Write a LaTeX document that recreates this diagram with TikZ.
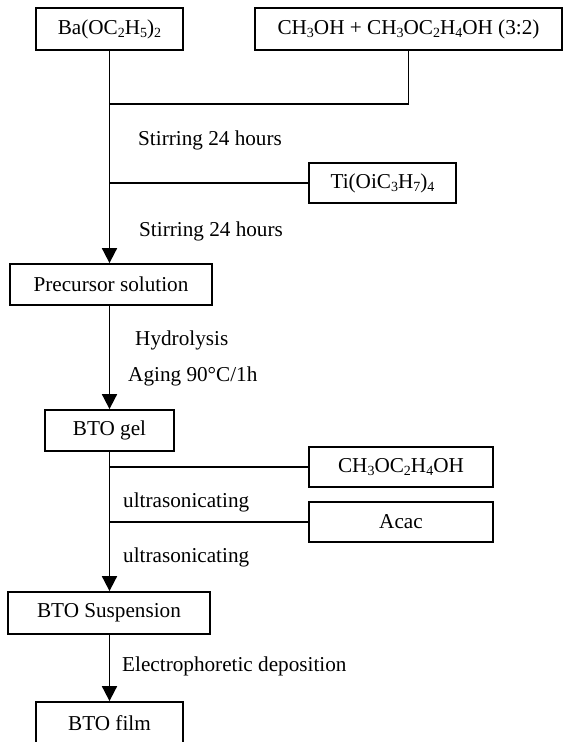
\documentclass[tikz,border=0pt]{standalone}
\usepackage{fontspec}
\setmainfont{Liberation Serif}
\usetikzlibrary{arrows.meta}
\newcommand\sbs[1]{\raisebox{-0.35ex}{\fontsize{14}{14}\selectfont #1}}
\begin{document}
\begin{tikzpicture}[x=1pt,y=-1pt,
  box/.style={draw,line width=1.8pt,inner sep=0pt,font=\fontsize{21.2}{24}\selectfont},
  lbl/.style={anchor=west,inner sep=0pt,font=\fontsize{21.2}{24}\selectfont},
  con/.style={line width=1.8pt},
  arr/.style={con,-{Triangle[width=15pt,length=15pt]}}]
\useasboundingbox (0,0) rectangle (564,742);
\node[box,minimum width=147pt,minimum height=42pt] (ba) at (109.5,29) {Ba(OC\sbs{2}H\sbs{5})\sbs{2}};
\node[box,minimum width=307pt,minimum height=42pt] (mix) at (408.5,29) {CH\sbs{3}OH + CH\sbs{3}OC\sbs{2}H\sbs{4}OH (3:2)};
\coordinate (j1) at (109.5,104);
\node[box,minimum width=147pt,minimum height=40pt] (ti) at (382.5,183) {Ti(OiC\sbs{3}H\sbs{7})\sbs{4}};
\node[box,minimum width=202pt,minimum height=41pt] (pre) at (111,284.5) {Precursor solution};
\node[box,minimum width=129pt,minimum height=41pt] (gel) at (109.5,430.5) {BTO gel};
\node[box,minimum width=184pt,minimum height=40pt] (meoh) at (401,467) {CH\sbs{3}OC\sbs{2}H\sbs{4}OH};
\node[box,minimum width=184pt,minimum height=40pt] (acac) at (401,522) {Acac};
\node[box,minimum width=202pt,minimum height=42pt] (susp) at (109,613) {BTO Suspension};
\node[box,minimum width=147pt,minimum height=42pt] (film) at (109.5,723) {BTO film};

\node[lbl] (s1) at (138,140) {Stirring 24 hours};
\node[lbl] (s2) at (139,231) {Stirring 24 hours};
\node[lbl] (hy) at (135,340) {Hydrolysis};
\node[lbl] (ag) at (128,376) {Aging 90°C/1h};
\node[lbl] (u1) at (123,502) {ultrasonicating};
\node[lbl] (u2) at (123,557) {ultrasonicating};
\node[lbl] (ep) at (122,666) {Electrophoretic deposition};

\draw[con] (mix.south) |- (j1);
\draw[arr] (ba.south) -- (ba.south |- pre.north);
\draw[con] (ti.west) -- (ti.west -| ba.south);
\draw[arr] (gel.north |- pre.south) -- (gel.north);
\draw[arr] (gel.south) -- (gel.south |- susp.north);
\draw[con] (meoh.west) -- (meoh.west -| gel.south);
\draw[con] (acac.west) -- (acac.west -| gel.south);
\draw[arr] (film.north |- susp.south) -- (film.north);
\end{tikzpicture}
\end{document}
